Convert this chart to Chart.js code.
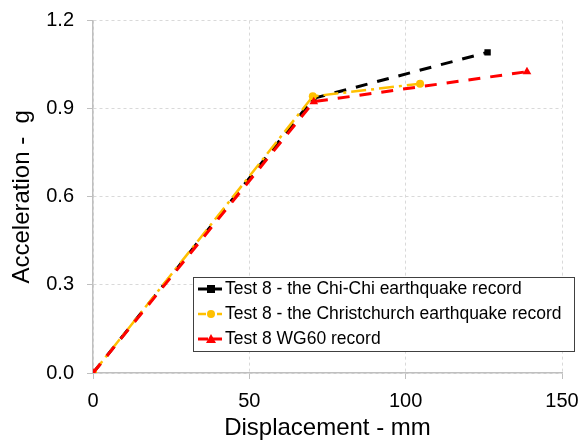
<!DOCTYPE html>
<html><head><meta charset="utf-8">
<script src="https://cdn.jsdelivr.net/npm/chart.js@4"></script>
<style>html,body{margin:0;padding:0;background:#fff}#wrap{width:580px;height:440px;position:relative}</style>
</head><body>
<div id="wrap"><canvas id="c" width="580" height="440"></canvas></div>
<script>
const seriesNames = ['Test 8 - the Chi-Chi earthquake record','Test 8 - the Christchurch earthquake record','Test 8 WG60 record'];
const chiChiX = [0, 70.5, 126.2];
const chiChiY = [0, 0.935, 1.092];
const christX = [0, 70.3, 104.6];
const christY = [0, 0.942, 0.985];
const wg60X = [0, 70.6, 138.8];
const wg60Y = [0, 0.924, 1.026];
const xTicks = [0, 50, 100, 150];
const yTicks = [0, 0.3, 0.6, 0.9, 1.2];
const xTitle = 'Displacement - mm';
const yTitle = 'Acceleration -  g';

const pts = (xs, ys) => xs.map((x, i) => ({x: x, y: ys[i]}));
const FONT = "'Liberation Sans', Arial, sans-serif";

const datasets = [
  {label: seriesNames[0], data: pts(chiChiX, chiChiY), borderColor: '#000', backgroundColor: '#000',
   borderWidth: 3, borderDash: [12, 10], pointStyle: 'rect', pointRadius: 4.5, order: 3},
  {label: seriesNames[1], data: pts(christX, christY), borderColor: '#FFC000', backgroundColor: '#FFC000',
   borderWidth: 2.5, borderDash: [15, 5, 3, 5], pointStyle: 'circle', pointRadius: 4, order: 2},
  {label: seriesNames[2], data: pts(wg60X, wg60Y), borderColor: '#FF0000', backgroundColor: '#FF0000',
   borderWidth: 3, borderDash: [12, 10], pointStyle: 'triangle', pointRadius: 5, order: 1}
];
datasets.forEach(d => { d.tension = 0; d.fill = false; d.pointBorderWidth = 0; d.pointBorderColor = d.borderColor; d.pointBackgroundColor = d.backgroundColor; });

const boxLegend = {
  id: 'boxLegend',
  afterDraw(chart) {
    const ctx = chart.ctx;
    const x0 = 193, y0 = 277, w = 381, h = 74;
    ctx.save();
    ctx.fillStyle = '#fff';
    ctx.fillRect(x0, y0, w, h);
    ctx.strokeStyle = '#404040';
    ctx.lineWidth = 1;
    ctx.strokeRect(x0 + 0.5, y0 + 0.5, w, h);
    const rows = [289, 314, 339];
    chart.data.datasets.forEach((d, i) => {
      const y = rows[i];
      ctx.save();
      ctx.strokeStyle = d.borderColor;
      ctx.lineWidth = d.borderWidth;
      ctx.setLineDash(i === 1 ? [8, 4, 3, 4] : [10, 4]);
      ctx.beginPath(); ctx.moveTo(198, y); ctx.lineTo(222, y); ctx.stroke();
      ctx.restore();
      ctx.save();
      ctx.fillStyle = d.backgroundColor;
      ctx.beginPath();
      if (d.pointStyle === 'rect') { ctx.fillRect(211 - 4, y - 4, 8, 8); }
      else if (d.pointStyle === 'circle') { ctx.arc(211, y, 4, 0, Math.PI * 2); ctx.fill(); }
      else { ctx.moveTo(211, y - 5); ctx.lineTo(216, y + 4); ctx.lineTo(206, y + 4); ctx.closePath(); ctx.fill(); }
      ctx.restore();
      ctx.fillStyle = '#000';
      ctx.font = '17.5px ' + FONT;
      ctx.textBaseline = 'middle';
      ctx.textAlign = 'left';
      ctx.fillText(d.label, 225, y);
    });
    ctx.restore();
  }
};

new Chart(document.getElementById('c'), {
  type: 'line',
  data: {datasets: datasets},
  options: {
    responsive: false,
    animation: false,
    layout: {padding: {top: 20.6, right: 18, left: 0, bottom: 0}},
    plugins: {legend: {display: false}, tooltip: {enabled: false}},
    scales: {
      x: {
        type: 'linear', min: 0, max: 150,
        afterBuildTicks: s => { s.ticks = xTicks.map(v => ({value: v})); },
        afterFit: s => { s.height = 67; s.paddingLeft = 0; s.paddingRight = 0; },
        grid: {color: '#d9d9d9', tickLength: 6, tickColor: '#bfbfbf', tickBorderDash: []},
        border: {color: '#bfbfbf', width: 1.5, dash: [3, 3]},
        ticks: {color: '#000', font: {family: FONT, size: 20}, padding: 10, maxRotation: 0},
        title: {display: true, text: xTitle, color: '#000', font: {family: FONT, size: 24}, padding: {top: 0, bottom: -3}}
      },
      y: {
        type: 'linear', min: 0, max: 1.2,
        afterBuildTicks: s => { s.ticks = yTicks.map(v => ({value: v})); },
        afterFit: s => { s.width = 93; s.paddingTop = 0; s.paddingBottom = 0; },
        grid: {color: '#d9d9d9', tickLength: 6, tickColor: '#bfbfbf', tickBorderDash: []},
        border: {color: '#bfbfbf', width: 1.5, dash: [3, 3]},
        ticks: {color: '#000', font: {family: FONT, size: 20}, padding: 13, callback: v => Number(v).toFixed(1)},
        title: {display: true, text: yTitle, color: '#000', font: {family: FONT, size: 24}, padding: {top: 8, bottom: 8}}
      }
    }
  },
  plugins: [boxLegend]
});
</script>
</body></html>
